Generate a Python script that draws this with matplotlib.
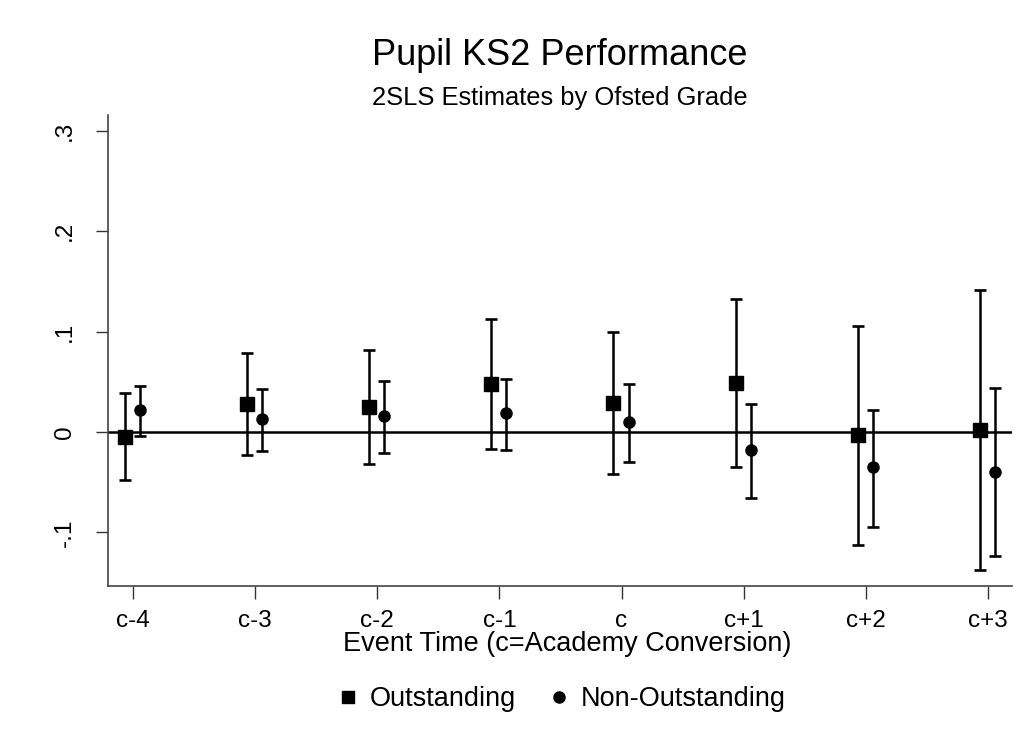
import numpy as np
import matplotlib
matplotlib.use('Agg')
from matplotlib import pyplot as plt
from matplotlib.lines import Line2D

plt.rcParams['font.family'] = ['Liberation Sans', 'DejaVu Sans']

# event time labels
periods = ['c-4', 'c-3', 'c-2', 'c-1', 'c', 'c+1', 'c+2', 'c+3']

# Outstanding schools: point estimate and 95% CI
out_est = [-0.005, 0.028, 0.025, 0.048, 0.029, 0.049, -0.003, 0.002]
out_lo = [-0.048, -0.023, -0.032, -0.017, -0.042, -0.035, -0.113, -0.138]
out_hi = [0.039, 0.079, 0.082, 0.113, 0.100, 0.133, 0.106, 0.142]

# Non-outstanding schools
non_est = [0.022, 0.013, 0.016, 0.019, 0.010, -0.018, -0.035, -0.040]
non_lo = [-0.004, -0.019, -0.021, -0.018, -0.030, -0.066, -0.095, -0.124]
non_hi = [0.046, 0.043, 0.051, 0.053, 0.048, 0.028, 0.022, 0.044]

yticks = [-0.1, 0, 0.1, 0.2, 0.3]
ytick_labels = ['-.1', '0', '.1', '.2', '.3']

x = np.arange(len(periods))
shift_out, shift_non = -0.066, 0.057

fig = plt.figure(figsize=(10.32, 7.51), dpi=100)
ax = fig.add_axes([108 / 1032, 1 - 586 / 751, 904 / 1032, 471 / 751])

ax.axhline(0, color='black', lw=1.8, zorder=1)

def draw(xs, est, lo, hi, marker, ms):
    est = np.array(est)
    err = [est - np.array(lo), np.array(hi) - est]
    ax.errorbar(xs, est, yerr=err, fmt=marker, color='black', ms=ms,
                elinewidth=1.8, capsize=4.0, capthick=1.9, zorder=3)

draw(x + shift_out, out_est, out_lo, out_hi, 's', 9.5)
draw(x + shift_non, non_est, non_lo, non_hi, 'o', 8)

ax.set_xlim(-0.205, 7.197)
ax.set_ylim(-0.1535, 0.316)
ax.set_xticks(x)
ax.set_xticklabels(periods, fontsize=17.5)
ax.set_yticks(yticks)
ax.set_yticklabels(ytick_labels, fontsize=17.5, rotation=90, va='center')
ax.tick_params(axis='both', direction='out', length=9, width=1, color='#333333', pad=8)
ax.tick_params(axis='y', pad=14)

for s in ['top', 'right']:
    ax.spines[s].set_visible(False)
for s in ['left', 'bottom']:
    ax.spines[s].set_color('#444444')
    ax.spines[s].set_linewidth(1.2)

ax.set_xlabel('Event Time (c=Academy Conversion)', fontsize=19.5)
ax.xaxis.label.set_va('baseline')
ax.xaxis.set_label_coords((567 - 108) / 904, -(651 - 586) / 471)

cx = (108 + 452) / 1032
fig.text(cx, 1 - 65 / 751, 'Pupil KS2 Performance', fontsize=26, ha='center', va='baseline')
fig.text(cx, 1 - 105 / 751, '2SLS Estimates by Ofsted Grade', fontsize=18.4, ha='center', va='baseline')

handles = [
    Line2D([], [], ls='none', marker='s', color='black', ms=9, label='Outstanding'),
    Line2D([], [], ls='none', marker='o', color='black', ms=8, label='Non-Outstanding'),
]
fig.legend(handles=handles, loc='center', bbox_to_anchor=(cx, 1 - 699 / 751), ncol=2,
           frameon=False, fontsize=19.5, handletextpad=0.3, columnspacing=1.1, handlelength=1.0)

fig.savefig('out.png', dpi=100)
